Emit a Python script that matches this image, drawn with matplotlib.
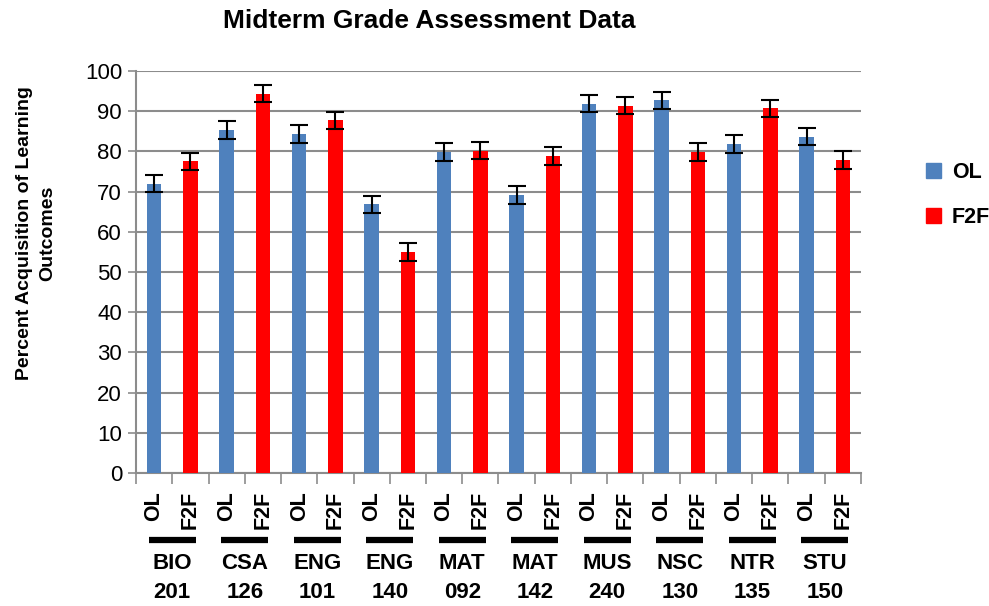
import matplotlib
matplotlib.use("Agg")
import matplotlib.pyplot as plt
import matplotlib.transforms as mtransforms
from matplotlib.patches import Patch

plt.rcParams['font.family'] = ['Liberation Sans', 'DejaVu Sans']

courses = ['BIO', 'CSA', 'ENG', 'ENG', 'MAT', 'MAT', 'MUS', 'NSC', 'NTR', 'STU']
numbers = ['201', '126', '101', '140', '092', '142', '240', '130', '135', '150']
ol_values = [72.0, 85.4, 84.4, 66.8, 79.9, 69.1, 91.9, 92.7, 81.9, 83.7]
f2f_values = [77.5, 94.4, 87.7, 54.9, 80.2, 78.9, 91.4, 79.8, 90.7, 77.8]
ol_errors = [2.2] * 10
f2f_errors = [2.2] * 10
yticks = [0, 10, 20, 30, 40, 50, 60, 70, 80, 90, 100]

BLUE = "#4F81BD"
RED = "#FF0000"
GRID = "#8C8C8C"


def main():
    fig = plt.figure(figsize=(9.89, 6.06), dpi=100)
    ax = fig.add_axes([136 / 989, 1 - 473 / 606, 725 / 989, 402 / 606])

    n = len(courses)
    x_ol = [2 * i for i in range(n)]
    x_f2f = [2 * i + 1 for i in range(n)]
    err_kw = dict(ecolor="black", elinewidth=1.5, capsize=6.5, capthick=1.5)
    ax.bar(x_ol, ol_values, width=0.4, color=BLUE, yerr=ol_errors,
           error_kw=err_kw, zorder=3, label="OL")
    ax.bar(x_f2f, f2f_values, width=0.4, color=RED, yerr=f2f_errors,
           error_kw=err_kw, zorder=3, label="F2F")

    ax.set_xlim(-0.5, 2 * n - 0.5)
    ax.set_ylim(0, 100)
    ax.set_yticks(yticks)
    ax.tick_params(axis='y', labelsize=16, length=6, width=1.2, color=GRID, pad=4)
    ax.yaxis.grid(True, color=GRID, linewidth=1.5, zorder=0)
    ax.set_axisbelow(True)

    # boundary ticks (major) and labelled centres (minor)
    ax.set_xticks([i - 0.5 for i in range(2 * n + 1)])
    ax.set_xticklabels([])
    ax.tick_params(axis='x', which='major', length=8, width=1.2, color=GRID)
    ax.set_xticks(x_ol + x_f2f, minor=True)
    ax.set_xticklabels(["OL"] * n + ["F2F"] * n, minor=True, rotation=90,
                       fontsize=15.5, fontweight='bold')
    ax.tick_params(axis='x', which='minor', length=0, pad=13)

    for side in ['top', 'right']:
        ax.spines[side].set_visible(False)
    for side in ['left', 'bottom']:
        ax.spines[side].set_color(GRID)
        ax.spines[side].set_linewidth(1.5)

    trans = mtransforms.blended_transform_factory(ax.transData, ax.transAxes)
    for i in range(n):
        c = 2 * i + 0.5
        ax.plot([c - 0.65, c + 0.65], [-0.1667, -0.1667], color="black",
                linewidth=4.5, transform=trans, clip_on=False, solid_capstyle='butt')
        ax.text(c, -0.224, courses[i], transform=trans, ha='center', va='center',
                fontsize=16, fontweight='bold')
        ax.text(c, -0.2985, numbers[i], transform=trans, ha='center', va='center',
                fontsize=16, fontweight='bold')

    fig.text(0.434, 0.966, "Midterm Grade Assessment Data", ha='center', va='center',
             fontsize=19, fontweight='bold')
    fig.text(36 / 989, 1 - 233 / 606, "Percent Acquisition of Learning\nOutcomes",
             rotation=90, ha='center', va='center', fontsize=14, fontweight='bold',
             linespacing=1.45)

    handles = [Patch(color=BLUE, label="OL"), Patch(color=RED, label="F2F")]
    fig.legend(handles=handles, loc='center left', bbox_to_anchor=(926 / 989, 1 - 195 / 606),
               frameon=False, prop={'size': 15.5, 'weight': 'bold'}, borderpad=0,
               borderaxespad=0, handlelength=0.7, handleheight=0.7,
               handletextpad=0.5, labelspacing=1.1)

    fig.savefig("out.png", dpi=100)


if __name__ == "__main__":
    main()
